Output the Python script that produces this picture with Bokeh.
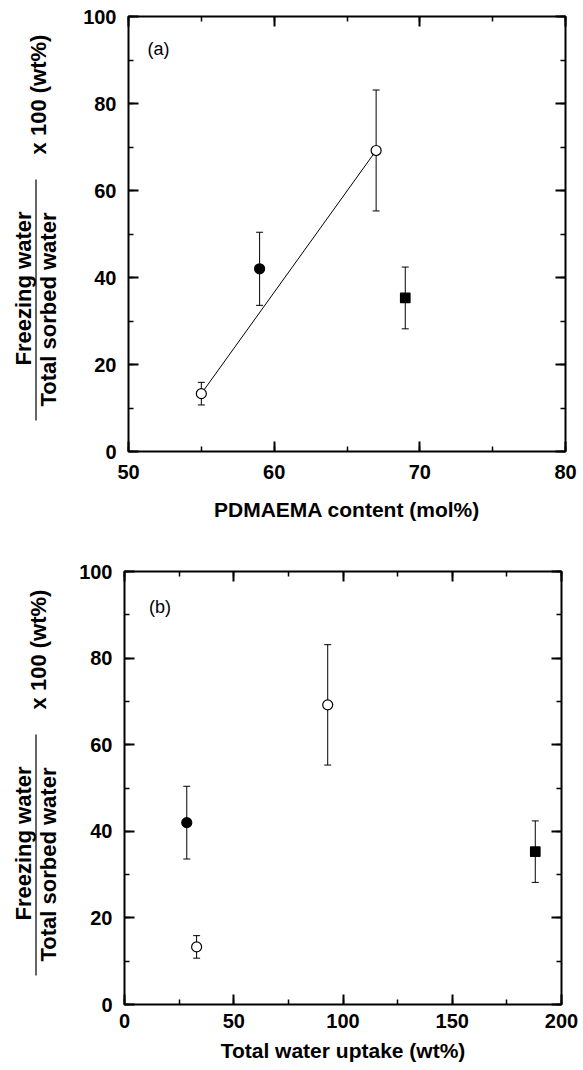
import math
from bokeh.plotting import figure
from bokeh.layouts import column, row
from bokeh.models import (ColumnDataSource, Whisker, TeeHead, LinearAxis,
                          SingleIntervalTicker, Range1d, Label)
from bokeh.embed import file_html
from bokeh.resources import INLINE
from bokeh.core.properties import value

# ---------------- data ----------------
# open circles
open_circle_pdmaema = [55, 67]
open_circle_uptake = [33, 93]
open_circle_ratio = [13.3, 69.2]
open_circle_err = [2.6, 13.9]
# filled circle
filled_circle_pdmaema = [59]
filled_circle_uptake = [28.5]
filled_circle_ratio = [42.0]
filled_circle_err = [8.4]
# filled square
filled_square_pdmaema = [69]
filled_square_uptake = [188]
filled_square_ratio = [35.3]
filled_square_err = [7.1]

x_label_a = "PDMAEMA content (mol%)"
x_label_b = "Total water uptake (wt%)"
y_numerator = "Freezing water"
y_denominator = "Total sorbed water"
y_factor = "x 100 (wt%)"

FONT = "Liberation Sans"
LABEL_W = 60
PANEL_H = 535


def make_ylabel(frame_top, border_bottom):
    # row layouts align this figure's frame with the panel frame, so its
    # y range spans exactly the panel frame (in pixels measured from the bottom)
    H = PANEL_H
    q = figure(width=LABEL_W, height=PANEL_H, x_range=Range1d(0, LABEL_W),
               y_range=Range1d(border_bottom, H - frame_top), output_backend="svg",
               toolbar_location=None, min_border_left=0, min_border_right=0,
               min_border_top=frame_top, min_border_bottom=border_bottom,
               outline_line_color=None,
               x_axis_location=None, y_axis_location=None)
    q.grid.visible = False
    common = dict(angle=math.pi / 2, text_align="center", text_baseline="middle",
                  text_font=value(FONT), text_font_style="bold",
                  text_font_size="22px", text_color="black")
    q.text(x=[23], y=[H - (frame_top + 272)], text=[y_numerator], **common)
    q.text(x=[48], y=[H - (frame_top + 293)], text=[y_denominator], **common)
    q.text(x=[38], y=[H - (frame_top + 78)], text=[y_factor], **common)
    q.segment(x0=[35.5], y0=[H - (frame_top + 163)], x1=[35.5], y1=[H - (frame_top + 404)],
              line_color="black", line_width=1.2)
    return q


def make_panel(xkey, xr, xint, xlabel, letter, letter_pos, borders, standoffs, draw_line):
    bl, br, bt, bb = borders
    p = figure(width=583 - LABEL_W, height=PANEL_H, x_range=Range1d(*xr),
               y_range=Range1d(0, 100), output_backend="svg", toolbar_location=None,
               min_border_left=bl, min_border_right=br, min_border_top=bt,
               min_border_bottom=bb)
    p.grid.visible = False
    p.outline_line_color = "black"
    p.outline_line_width = 2
    p.background_fill_color = "white"
    p.border_fill_color = "white"

    bottom = p.below[0]
    left = p.left[0]
    bottom.ticker = SingleIntervalTicker(interval=xint, num_minor_ticks=2)
    left.ticker = SingleIntervalTicker(interval=20, num_minor_ticks=2)
    bottom.axis_label = xlabel

    top = LinearAxis(ticker=SingleIntervalTicker(interval=xint, num_minor_ticks=2))
    right = LinearAxis(ticker=SingleIntervalTicker(interval=20, num_minor_ticks=2))
    p.add_layout(top, "above")
    p.add_layout(right, "right")

    for ax in (bottom, left, top, right):
        ax.axis_line_color = None
        ax.major_tick_in = 10
        ax.major_tick_out = 0
        ax.minor_tick_in = 5
        ax.minor_tick_out = 0
        ax.major_tick_line_width = 2
        ax.minor_tick_line_width = 1.5
        ax.major_tick_line_color = "black"
        ax.minor_tick_line_color = "black"
        ax.major_label_text_font = FONT
        ax.major_label_text_font_style = "bold"
        ax.major_label_text_font_size = "20px"
        ax.axis_label_text_font = FONT
        ax.axis_label_text_font_style = "bold"
        ax.axis_label_text_font_size = "21px"
        ax.axis_label_text_color = "black"
    for ax in (bottom, left):
        ax.major_label_text_color = "black"
    top.major_label_text_color = None
    right.major_label_text_color = None
    left.major_label_standoff = 12
    bottom.major_label_standoff = standoffs[0]
    bottom.axis_label_standoff = standoffs[1]

    series = [
        (open_circle_pdmaema, open_circle_uptake, open_circle_ratio, open_circle_err, "circle", "white", 10),
        (filled_circle_pdmaema, filled_circle_uptake, filled_circle_ratio, filled_circle_err, "circle", "black", 10),
        (filled_square_pdmaema, filled_square_uptake, filled_square_ratio, filled_square_err, "square", "black", 9.5),
    ]
    srcs = []
    for pd_, up_, r_, e_, mk, fc, sz in series:
        xs = pd_ if xkey == "pdmaema" else up_
        src = ColumnDataSource(dict(x=xs, y=r_,
                                    upper=[a + b for a, b in zip(r_, e_)],
                                    lower=[a - b for a, b in zip(r_, e_)]))
        w = Whisker(base="x", upper="upper", lower="lower", source=src,
                    dimension="height", line_color="black", line_width=1,
                    upper_head=TeeHead(size=7, line_color="black", line_width=1),
                    lower_head=TeeHead(size=7, line_color="black", line_width=1),
                    level="underlay")
        p.add_layout(w)
        srcs.append((src, mk, fc, sz))

    if draw_line:
        p.line(x=open_circle_pdmaema, y=open_circle_ratio, line_color="black", line_width=1)

    for src, mk, fc, sz in srcs:
        p.scatter(x="x", y="y", source=src, marker=mk, size=sz, fill_color=fc,
                  line_color="black", line_width=1.2)

    p.add_layout(Label(x=letter_pos[0], y=letter_pos[1], text=letter,
                       text_font=FONT, text_font_size="18px", text_color="black",
                       text_baseline="middle", text_align="left"))
    return p


pa = make_panel("pdmaema", (50, 80), 10, x_label_a, "(a)", (51.3, 92.6),
                (68, 18, 16, 84), (13, 16), True)
pb = make_panel("uptake", (0, 200), 50, x_label_b, "(b)", (11.2, 91.7),
                (64, 22, 36, 66), (9, 8), False)

layout = column(row(make_ylabel(16, 84), pa), row(make_ylabel(36, 66), pb))

open("out.html", "w").write(file_html(layout, INLINE))
